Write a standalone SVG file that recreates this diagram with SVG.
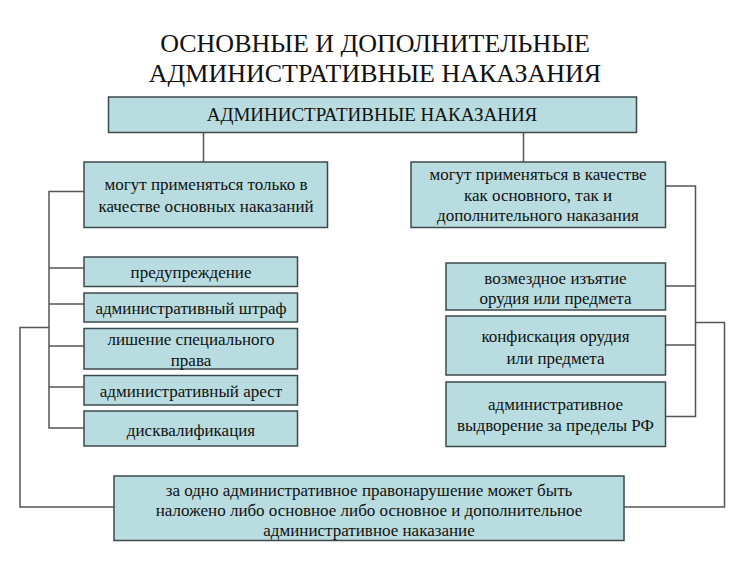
<svg xmlns="http://www.w3.org/2000/svg" width="750" height="561" viewBox="0 0 750 561" font-family="Liberation Serif, serif">
<style>
  .box { fill: #b8dcdf; stroke: #3d4a4c; stroke-width: 1.5; }
  .t { fill: #111; text-anchor: middle; }
  .title { font-size: 26px; }
  .head { font-size: 19px; }
  .n { font-size: 17px; }
  .c { fill: none; stroke: #555; stroke-width: 1.5; }
</style>
<rect width="750" height="561" fill="#fff"/>
<g id="title">
  <text class="t title" x="375" y="52">ОСНОВНЫЕ И ДОПОЛНИТЕЛЬНЫЕ</text>
  <text class="t title" x="375" y="82">АДМИНИСТРАТИВНЫЕ НАКАЗАНИЯ</text>
</g>
<g id="connectors">
  <path class="c" d="M203.5 132.5 V161.5"/>
  <path class="c" d="M523.5 132.5 V161.5"/>
  <path class="c" d="M84 191.5 H49 V428 H84"/>
  <path class="c" d="M49 268 H84 M49 304 H84 M49 346 H84 M49 387 H84"/>
  <path class="c" d="M49 327.5 H20 V507 H114"/>
  <path class="c" d="M666 186 H695.5 V416.5 H666"/>
  <path class="c" d="M695.5 286 H666 M695.5 345 H666"/>
  <path class="c" d="M695.5 322.5 H724.5 V507 H624"/>
</g>
<g id="main">
  <rect class="box" x="108.5" y="97" width="528" height="35.5"/>
  <text class="t head" x="372" y="121">АДМИНИСТРАТИВНЫЕ НАКАЗАНИЯ</text>
</g>
<g id="left-head">
  <rect class="box" x="84" y="162" width="243.5" height="65.5"/>
  <text class="t n" x="206" y="190">могут применяться только в</text>
  <text class="t n" x="206" y="211.5">качестве основных наказаний</text>
</g>
<g id="right-head">
  <rect class="box" x="411" y="162" width="254.5" height="65.5"/>
  <text class="t n" x="538" y="180">могут применяться в качестве</text>
  <text class="t n" x="538" y="200.5">как основного, так и</text>
  <text class="t n" x="538" y="221">дополнительного наказания</text>
</g>
<g id="l1">
  <rect class="box" x="84" y="257" width="213.5" height="29.5"/>
  <text class="t n" x="191" y="278">предупреждение</text>
</g>
<g id="l2">
  <rect class="box" x="84" y="293" width="213.5" height="29"/>
  <text class="t n" x="191" y="314">административный штраф</text>
</g>
<g id="l3">
  <rect class="box" x="84" y="328.5" width="213.5" height="40.5"/>
  <text class="t n" x="191" y="344.5">лишение специального</text>
  <text class="t n" x="191" y="366">права</text>
</g>
<g id="l4">
  <rect class="box" x="84" y="375.5" width="213.5" height="29.5"/>
  <text class="t n" x="191" y="397">административный арест</text>
</g>
<g id="l5">
  <rect class="box" x="84" y="411" width="213.5" height="35"/>
  <text class="t n" x="191" y="435.5">дисквалификация</text>
</g>
<g id="r1">
  <rect class="box" x="446" y="263" width="219.5" height="47"/>
  <text class="t n" x="555.5" y="283.5">возмездное изъятие</text>
  <text class="t n" x="555.5" y="304">орудия или предмета</text>
</g>
<g id="r2">
  <rect class="box" x="446" y="316" width="219.5" height="59"/>
  <text class="t n" x="555.5" y="342">конфискация орудия</text>
  <text class="t n" x="555.5" y="363.5">или предмета</text>
</g>
<g id="r3">
  <rect class="box" x="446" y="382" width="219.5" height="64.5"/>
  <text class="t n" x="555.5" y="410">административное</text>
  <text class="t n" x="555.5" y="431">выдворение за пределы РФ</text>
</g>
<g id="bottom">
  <rect class="box" x="114" y="476" width="510" height="64.5"/>
  <text class="t n" x="369" y="495.5">за одно административное правонарушение может быть</text>
  <text class="t n" x="369" y="516">наложено либо основное либо основное и дополнительное</text>
  <text class="t n" x="369" y="535.5">административное наказание</text>
</g>
</svg>
